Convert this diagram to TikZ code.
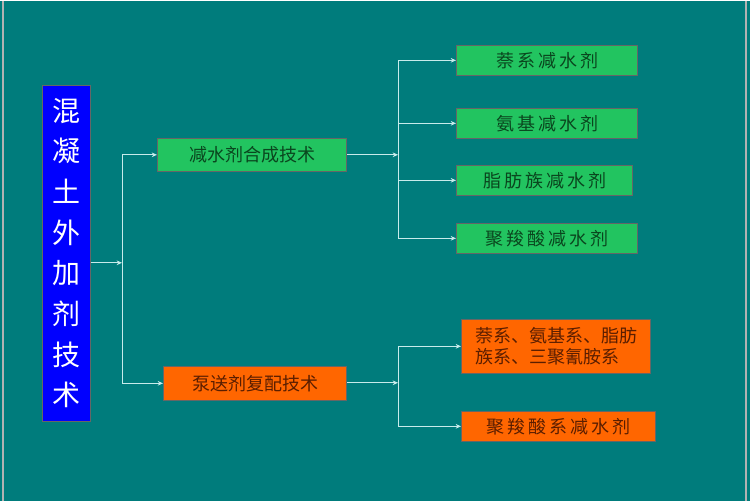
\documentclass[tikz,border=0pt]{standalone}
\usepackage{fontspec}
\newfontfamily\cjk{Noto Sans CJK SC}
\usetikzlibrary{arrows.meta}
\definecolor{bg}{RGB}{0,124,124}
\definecolor{gr}{RGB}{34,196,96}
\definecolor{grt}{RGB}{10,70,30}
\definecolor{og}{RGB}{255,102,0}
\definecolor{ogt}{RGB}{90,30,0}
\definecolor{ln}{RGB}{200,235,235}
\tikzset{
 gbox/.style={draw=black!60,line width=0.8pt,fill=gr,text=grt,font=\cjk\fontsize{13.5}{16}\selectfont,inner sep=0pt,anchor=north west},
 obox/.style={draw=black!60,line width=0.8pt,fill=og,text=ogt,font=\cjk\fontsize{13.5}{16}\selectfont,inner sep=0pt,anchor=north west},
 con/.style={draw=ln,line width=0.7pt},
 arr/.style={con,-{Stealth[length=4pt,width=3.5pt]}}
}
\begin{document}
\begin{tikzpicture}[x=0.75pt,y=-0.75pt]
\fill[bg] (0,0) rectangle (750,500);
\draw[gray!60,line width=1.2pt] (3,0) -- (3,500) (746,0) -- (746,500);
\node[draw=black!60,fill=blue,text=white,minimum width=36pt,minimum height=252pt,anchor=north west,inner sep=0pt,font=\cjk\fontsize{21}{30.5}\selectfont,align=center] (main) at (42,84) {混\\凝\\土\\外\\加\\剂\\技\\术};
\node[gbox,minimum width=141.75pt,minimum height=24.75pt] (a) at (157,137) {减水剂合成技术};
\node[obox,minimum width=137.25pt,minimum height=25.5pt] (b) at (163,365) {泵送剂复配技术};
\node[gbox,minimum width=135.75pt,minimum height=22.5pt] (a1) at (456,44) {萘\,系\,减\,水\,剂};
\node[gbox,minimum width=135.75pt,minimum height=22.5pt] (a2) at (456,107) {氨\,基\,减\,水\,剂};
\node[gbox,minimum width=132pt,minimum height=22.5pt] (a3) at (456,164) {脂\,肪\,族\,减\,水\,剂};
\node[gbox,minimum width=135.75pt,minimum height=22.5pt] (a4) at (456,222) {聚\,羧\,酸\,减\,水\,剂};
\node[obox,minimum width=141.75pt,minimum height=40.5pt,align=left] (b1) at (461,318) {萘系、氨基系、脂肪\\族系、三聚氰胺系};
\node[obox,minimum width=145.5pt,minimum height=22.5pt] (b2) at (461,410) {聚\,羧\,酸\,系\,减\,水\,剂};
\coordinate (j0) at (122,262);
\draw[arr] (main.east|-j0) -- (j0);
\draw[arr] (j0) |- (a.west);
\draw[arr] (j0) |- (b.west);
\coordinate (j1) at (398,154);
\coordinate (j2) at (398,382);
\draw[arr] (a.east|-j1) -- (j1);
\draw[arr] (b.east|-j2) -- (j2);
\foreach \n in {a1,a2,a3,a4} \draw[arr] (j1) |- (\n.west);
\foreach \n in {b1,b2} \draw[arr] (j2) |- (\n.west);
\end{tikzpicture}
\end{document}
